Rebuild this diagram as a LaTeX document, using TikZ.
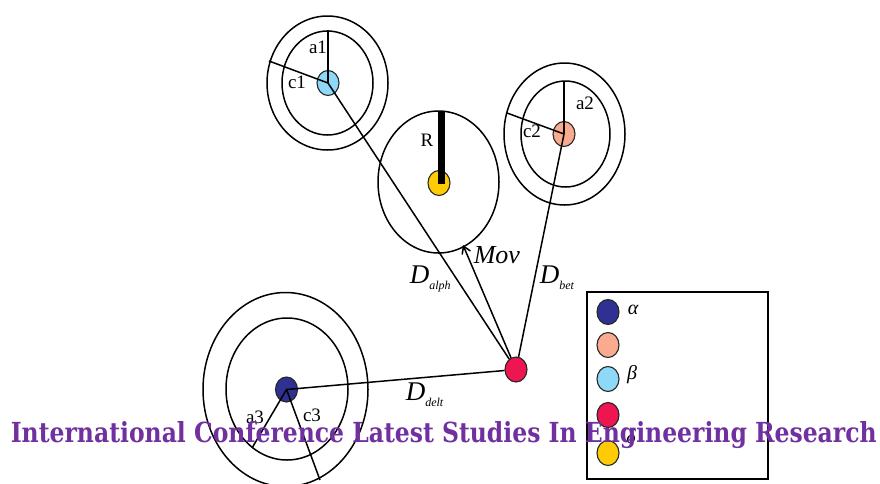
\documentclass[tikz,border=0pt]{standalone}
\usepackage{fontspec}
\setmainfont{Liberation Serif}
\newfontfamily\wmfont{DejaVu Serif}
\usetikzlibrary{shapes.geometric,arrows.meta}
\definecolor{dblue}{HTML}{2E3192}
\definecolor{peach}{HTML}{F9AA8F}
\definecolor{lblue}{HTML}{8ED8F8}
\definecolor{rdot}{HTML}{ED1651}
\definecolor{ydot}{HTML}{FFCB05}
\definecolor{wmark}{HTML}{7030A0}
\begin{document}
\begin{tikzpicture}[x=1pt,y=-1pt,line width=1.5pt,
  dot/.style={ellipse,draw=black!85,line width=1.1pt,minimum width=22pt,minimum height=25pt,inner sep=0pt},
  ring/.style={draw,line width=1.5pt},
  lbl/.style={font=\fontsize{19}{19}\selectfont,inner sep=0pt},
  glbl/.style={font=\fontsize{20}{20}\selectfont\itshape,inner sep=0pt},
  dlbl/.style={font=\fontsize{27}{27}\selectfont\itshape,inner sep=0pt}]
\useasboundingbox (0,0) rectangle (880,483);
\clip (0,0) rectangle (880,483);
% rings
\draw[ring] (327.5,83) ellipse [x radius=60.5pt, y radius=67pt];
\draw[ring] (327.5,83) ellipse [x radius=45.5pt, y radius=52pt];
\draw[ring] (564.5,134) ellipse [x radius=60.5pt, y radius=71pt];
\draw[ring] (565.5,134) ellipse [x radius=44.5pt, y radius=53pt];
\draw[ring] (438.5,182) ellipse [x radius=60.5pt, y radius=71pt];
\draw[ring] (285.5,389.5) ellipse [x radius=82.5pt, y radius=97pt];
\draw[ring] (287,389) ellipse [x radius=61pt, y radius=71pt];
% dots
\node[dot,fill=lblue] (b) at (328,83) {};
\node[dot,fill=peach] (o) at (564,134) {};
\node[dot,fill=ydot] (y) at (439,183) {};
\node[dot,fill=dblue] (d) at (286.5,389.5) {};
\node[dot,fill=rdot] (r) at (516,369.5) {};
% free ends
\coordinate (a1e) at (328,30);
\coordinate (c1e) at (269,61);
\coordinate (a2e) at (564,81);
\coordinate (c2e) at (507,113);
\coordinate (a3e) at (252,448);
\coordinate (c3e) at (320,480);
\coordinate (Rtop) at (441,111);
\coordinate (Rbot) at (441,184);
\coordinate (movtip) at (463,245);
% radii
\draw (b.center) -- (a1e);
\draw (b.center) -- (c1e);
\draw (o.center) -- (a2e);
\draw (o.center) -- (c2e);
\draw (d.center) -- (a3e);
\draw (d.center) -- (c3e);
\draw[line width=7pt] (Rbot) -- (Rtop);
% distances
\draw (b.center) -- (r);
\draw (o.center) -- (r);
\draw (d.center) -- (r);
\draw[-{Straight Barb[length=7pt,width=9pt]}] (r) -- (movtip);
% labels
\node[lbl] (la1) at (318,47) {a1};
\node[lbl] (lc1) at (297,82) {c1};
\node[lbl] (la2) at (585,103) {a2};
\node[lbl] (lc2) at (532,131) {c2};
\node[lbl] (la3) at (255,417) {a3};
\node[lbl] (lc3) at (312,415) {c3};
\node[lbl] (lR) at (427,140) {R};
\node[font=\fontsize{26}{26}\selectfont\itshape,inner sep=0pt,anchor=base west] (lmov) at (473,263) {Mov};
\node[dlbl,anchor=base west] (lda) at (409,283) {D\raisebox{-6pt}{\fontsize{12}{12}\selectfont alph}};
\node[dlbl,anchor=base west] (ldb) at (539,283) {D\raisebox{-6pt}{\fontsize{12}{12}\selectfont bet}};
\node[dlbl,anchor=base west] (ldd) at (405,400) {D\raisebox{-6pt}{\fontsize{12}{12}\selectfont delt}};
% legend
\node[draw,line width=1.6pt,minimum width=181pt,minimum height=187pt,inner sep=0pt] (leg) at (677.5,385.5) {};
\node[dot,fill=dblue] (k1) at (608,312) {};
\node[dot,fill=peach] (k2) at (608,345) {};
\node[dot,fill=lblue] (k3) at (608,379) {};
\node[dot,fill=rdot] (k4) at (608,415) {};
\node[dot,fill=ydot] (k5) at (608,453) {};
\node[glbl] (kl1) at (633,310) {α};
\node[glbl] (kl3) at (632,375) {β};
\node[glbl] (kl5) at (631,437) {δ};
% watermark
\node[text=wmark,inner sep=0pt,anchor=base west] (wm) at (10,442) {\resizebox{866pt}{21pt}{\wmfont\bfseries International Conference Latest Studies In Engineering Research}};
\end{tikzpicture}
\end{document}
